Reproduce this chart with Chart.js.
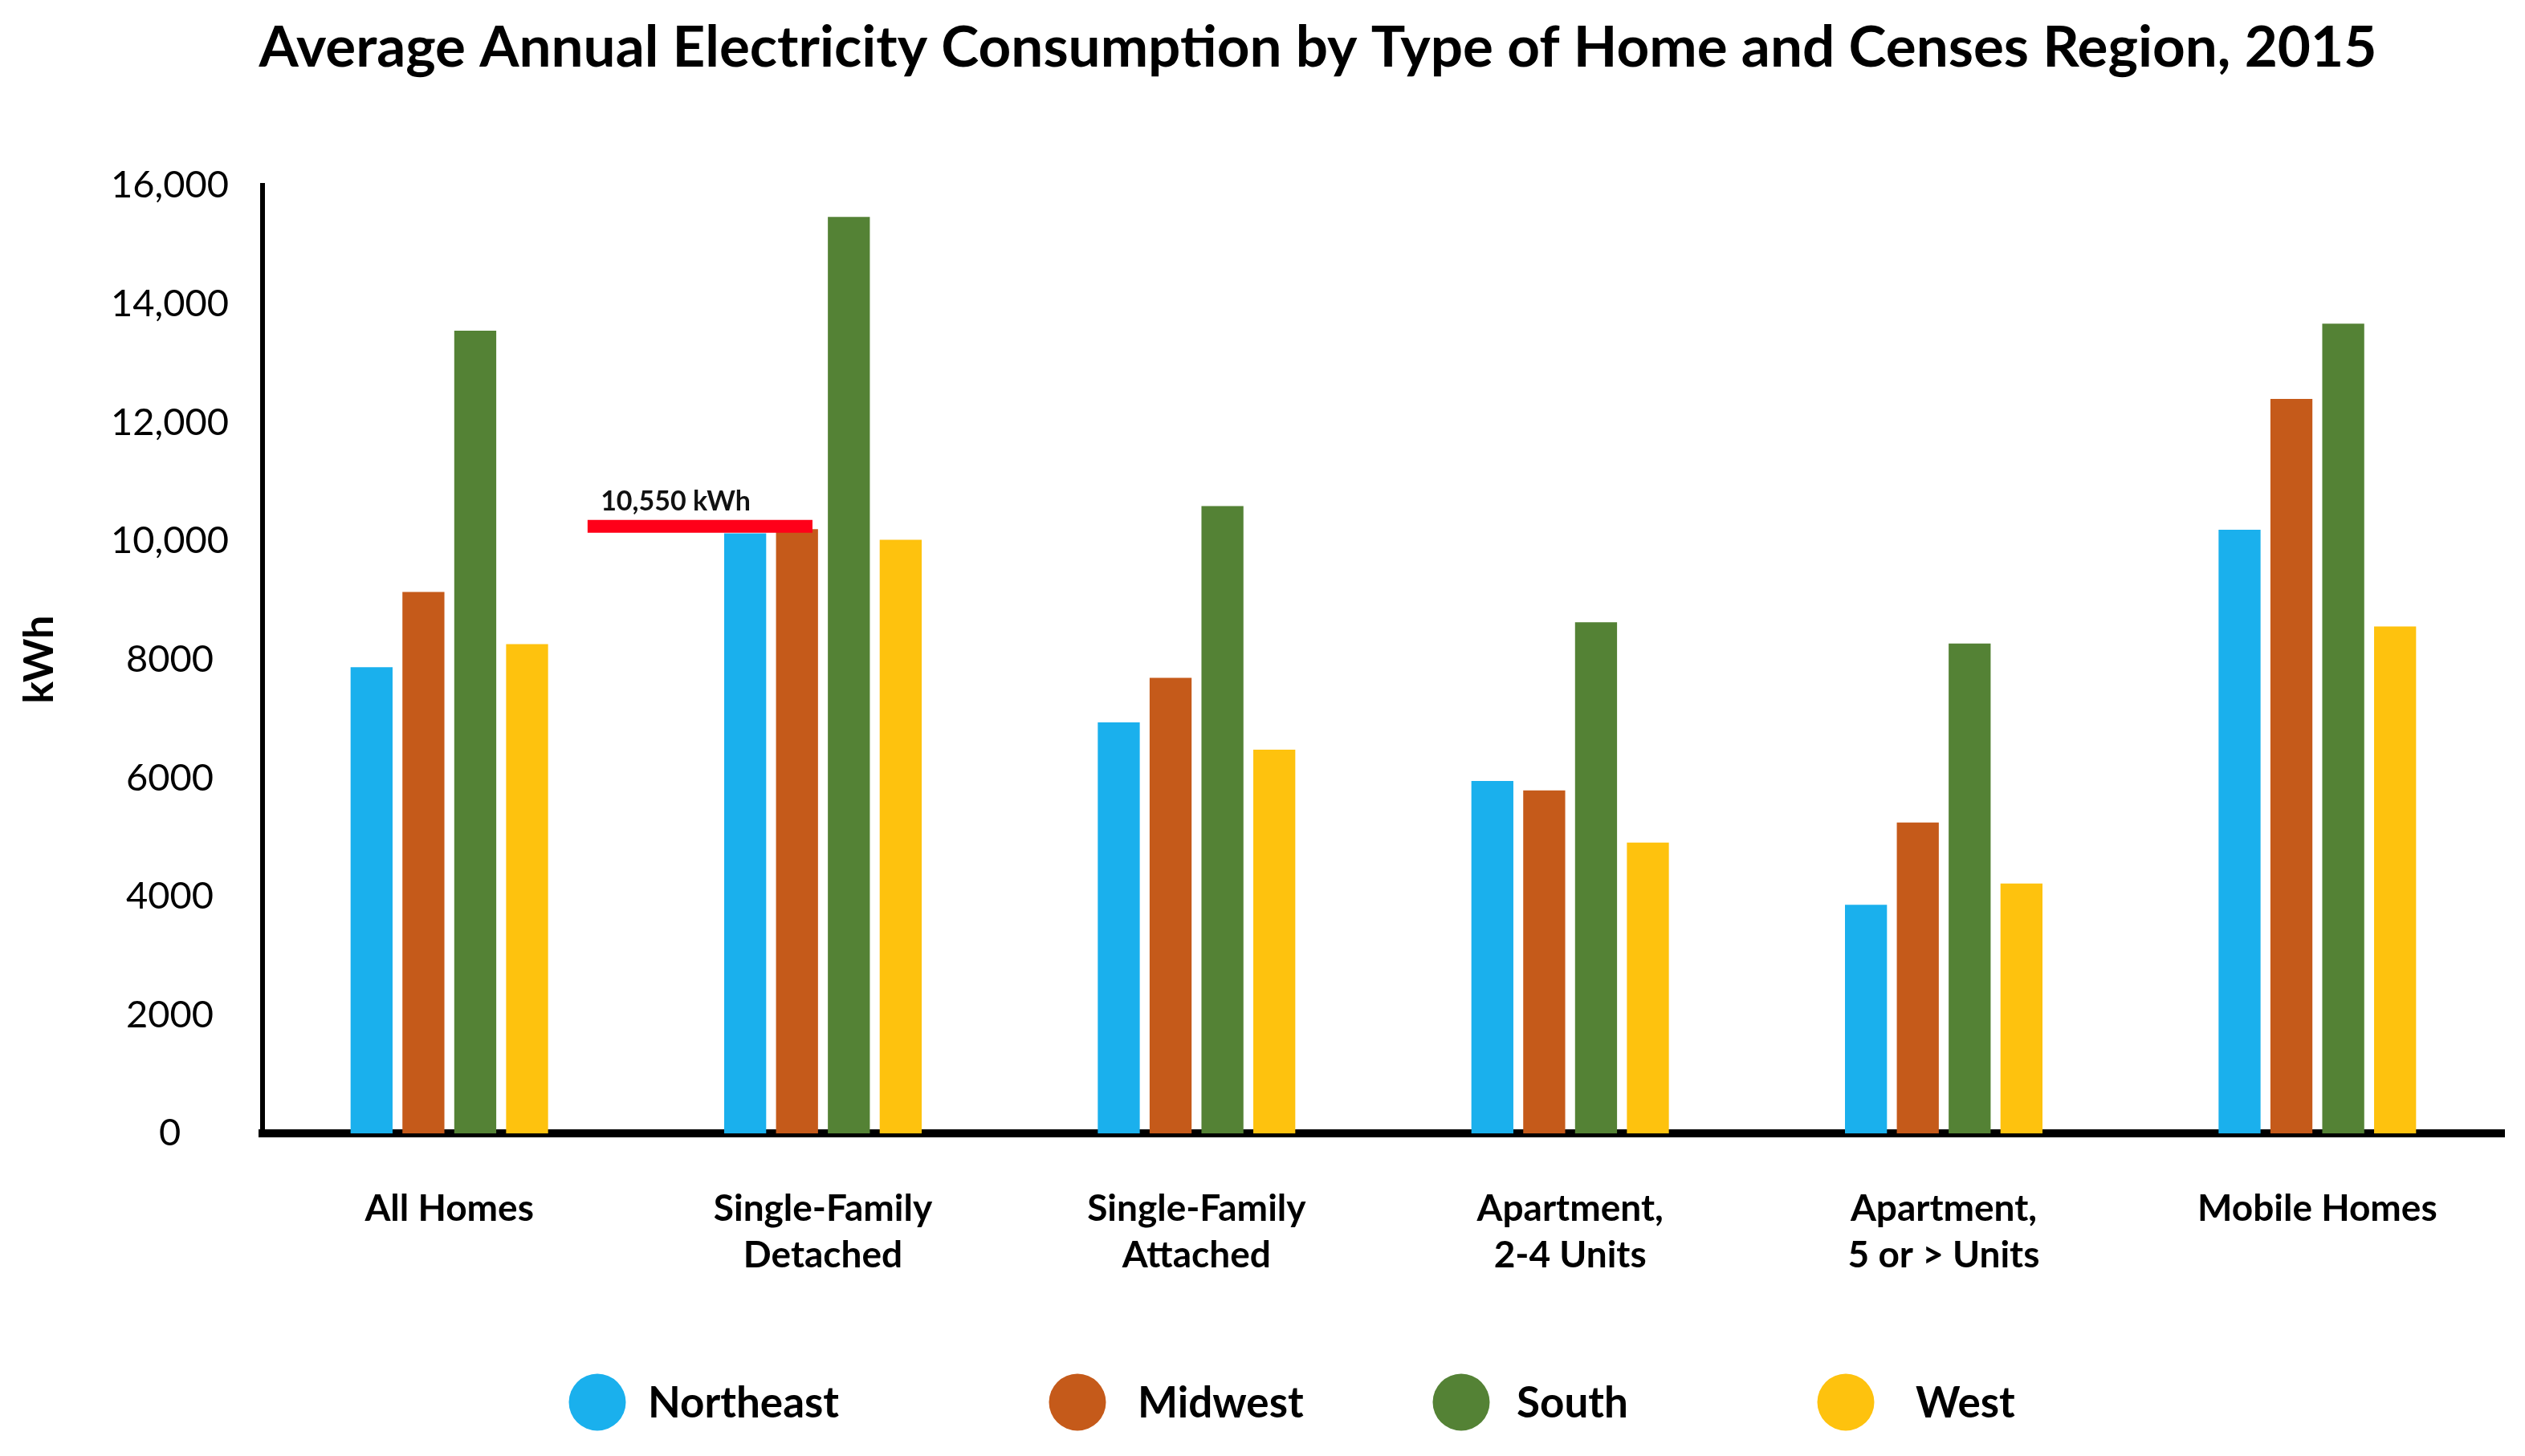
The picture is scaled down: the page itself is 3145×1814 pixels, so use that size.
<!DOCTYPE html>
<html>
<head>
<meta charset="utf-8">
<title>Average Annual Electricity Consumption by Type of Home</title>
<script src="https://cdn.jsdelivr.net/npm/chart.js@4.4.1/dist/chart.umd.min.js"></script>
<style>
    html, body { margin: 0; padding: 0; background: #ffffff; }
    #wrap { width: 3145px; height: 1814px; position: relative; }
</style>
</head>
<body>
<div id="wrap"><canvas id="myChart"></canvas></div>
<script>
const homeTypes = [
    'All Homes',
    ['Single-Family', 'Detached'],
    ['Single-Family', 'Attached'],
    ['Apartment,', '2-4 Units'],
    ['Apartment,', '5 or > Units'],
    'Mobile Homes'
];
const regions = ['Northeast', 'Midwest', 'South', 'West'];
const northeast = [7870, 10130, 6940, 5950, 3860, 10190];
const midwest = [9140, 10200, 7690, 5790, 5250, 12400];
const south = [13550, 15470, 10590, 8630, 8270, 13670];
const west = [8260, 10020, 6480, 4910, 4220, 8560];
const regionColors = ['#1AB0ED', '#C55A1A', '#548235', '#FEC20E'];

const yTicks = [0, 2000, 4000, 6000, 8000, 10000, 12000, 14000, 16000];
const yTickLabels = ['0', '2000', '4000', '6000', '8000', '10,000', '12,000', '14,000', '16,000'];

// red marker over the single-family detached group
const markerValue = 10250;
const markerLabel = '10,550 kWh';
const markerCategory = 1;

const FONT = 'Lato';

// marker line + custom legend row
const extrasPlugin = {
    id: 'extras',
    afterLayout(chart) {
        // the title sits a bit right of the canvas centre
        chart.titleBlock.left += 164;
    },
    afterDatasetsDraw(chart) {
        const ctx = chart.ctx;
        const x = chart.scales.x;
        const y = chart.scales.y;
        const catW = x.getPixelForValue(1) - x.getPixelForValue(0);
        const cx = x.getPixelForValue(markerCategory);
        const py = y.getPixelForValue(markerValue);

        ctx.save();
        ctx.strokeStyle = '#FF0019';
        ctx.lineWidth = 16;
        ctx.beginPath();
        ctx.moveTo(cx - 0.63 * catW, py);
        ctx.lineTo(cx - 0.028 * catW, py);
        ctx.stroke();

        ctx.fillStyle = '#111111';
        ctx.font = 'bold 34px ' + FONT;
        ctx.textAlign = 'left';
        ctx.textBaseline = 'alphabetic';
        ctx.fillText(markerLabel, cx - 0.595 * catW, py - 20);
        ctx.restore();
    },
    afterDraw(chart) {
        const ctx = chart.ctx;
        const circleX = [744, 1342, 1820, 2299];
        const textX = [807, 1417, 1889, 2386];
        const rowY = 1747;
        ctx.save();
        chart.data.datasets.forEach((ds, i) => {
            ctx.fillStyle = ds.backgroundColor;
            ctx.beginPath();
            ctx.arc(circleX[i], rowY, 35.5, 0, Math.PI * 2);
            ctx.fill();
            ctx.fillStyle = '#000000';
            ctx.font = 'bold 53px ' + FONT;
            ctx.textAlign = 'left';
            ctx.textBaseline = 'middle';
            ctx.fillText(ds.label, textX[i], rowY + 2);
        });
        ctx.restore();
    }
};

const seriesValues = [northeast, midwest, south, west];

let ctx = document.getElementById('myChart').getContext('2d');
let chart = new Chart(ctx, {
    type: 'bar',
    data: {
        labels: homeTypes,
        datasets: regions.map((name, i) => ({
            label: name,
            data: seriesValues[i],
            backgroundColor: regionColors[i],
            borderWidth: 0,
            categoryPercentage: 0.555,
            barPercentage: 0.81
        }))
    },
    options: {
        responsive: true,
        maintainAspectRatio: false,
        animation: false,
        devicePixelRatio: 1,
        layout: {
            padding: { left: 0, right: 26, top: 0, bottom: 156 }
        },
        plugins: {
            legend: { display: false },
            tooltip: { enabled: false },
            title: {
                display: true,
                text: 'Average Annual Electricity Consumption by Type of Home and Censes Region, 2015',
                color: '#000000',
                font: { family: FONT, size: 71, weight: 'bold' },
                padding: { top: 18, bottom: 128 }
            }
        },
        scales: {
            x: {
                grid: { display: false, drawTicks: false },
                border: { display: true, color: '#000000', width: 10 },
                ticks: {
                    color: '#000000',
                    font: { family: FONT, size: 46, weight: 'bold', lineHeight: 1.28 },
                    padding: 64,
                    maxRotation: 0,
                    autoSkip: false
                }
            },
            y: {
                min: 0,
                max: 16000,
                afterFit(scale) { scale.width = 327; },
                afterBuildTicks(scale) {
                    scale.ticks = yTicks.map(v => ({ value: v }));
                },
                grid: { display: false, drawTicks: false },
                border: { display: true, color: '#000000', width: 6 },
                ticks: {
                    color: '#000000',
                    font: { family: FONT, size: 47 },
                    padding: 42,
                    crossAlign: 'center',
                    callback: (value) => yTickLabels[yTicks.indexOf(value)]
                },
                title: {
                    display: true,
                    text: 'kWh',
                    color: '#000000',
                    font: { family: FONT, size: 52, weight: 'bold' },
                    padding: { top: 18, bottom: 0 }
                }
            }
        }
    },
    plugins: [extrasPlugin]
});
</script>
</body>
</html>
